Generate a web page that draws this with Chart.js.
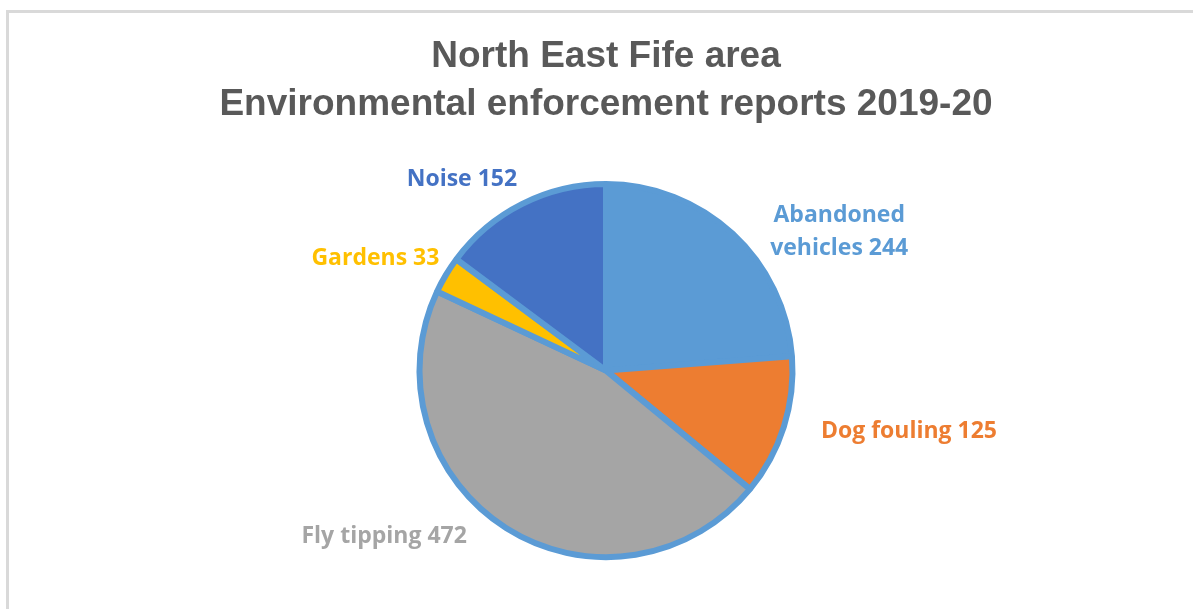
<!DOCTYPE html>
<html>
<head>
<meta charset="utf-8">
<script src="https://cdn.jsdelivr.net/npm/chart.js@4"></script>
<style>
  html, body { margin: 0; padding: 0; background: #fff; overflow: hidden; }
  body { width: 1193px; height: 609px; position: relative; }
  #frame {
    position: absolute; left: 6px; top: 10px;
    width: 1196px; height: 596px;
    border-top: 3px solid #d9d9d9; border-left: 3px solid #d9d9d9;
  }
  #chart { display: block; }
</style>
</head>
<body>
<div id="frame"><canvas id="chart" width="1196" height="596"></canvas></div>
<script>
// Data
const categories = ["Abandoned\nvehicles", "Dog fouling", "Fly tipping", "Gardens", "Noise"];
const reports = [244, 125, 472, 33, 152];
const sliceColors = ["#5B9BD5", "#ED7D31", "#A5A5A5", "#FFC000", "#4472C4"];
const titleLines = ["North East Fife area", "Environmental enforcement reports 2019-20"];

// small hand nudges so the labels sit where Excel put them
const labelShift = [[48, 35], [25, -5], [-69, -20], [-1, 1], [-28, 5]];

const labelFont = "bold 23px 'Open Sans'";
const labelLineHeight = 33;

// Outside-end data labels, coloured like their slice
const outsideLabels = {
  id: "outsideLabels",
  afterDatasetsDraw(chart) {
    const ctx = chart.ctx;
    const meta = chart.getDatasetMeta(0);
    ctx.save();
    ctx.font = labelFont;
    ctx.textAlign = "center";
    ctx.textBaseline = "middle";
    meta.data.forEach((arc, i) => {
      const p = arc.getProps(["x", "y", "startAngle", "endAngle", "outerRadius"], true);
      const mid = (p.startAngle + p.endAngle) / 2;
      const dx = Math.cos(mid);
      const dy = Math.sin(mid);
      const dist = p.outerRadius + 3 + 14;
      const ax = p.x + dx * dist;
      const ay = p.y + dy * dist;
      const lines = (categories[i] + " " + reports[i]).split("\n");
      const w = Math.max(...lines.map((l) => ctx.measureText(l).width));
      const h = lines.length * labelLineHeight;
      const cx = ax + dx * w / 2 + labelShift[i][0];
      const cy = ay + dy * h / 2 + labelShift[i][1];
      ctx.fillStyle = sliceColors[i];
      lines.forEach((l, k) => {
        ctx.fillText(l, cx, cy - (h - labelLineHeight) / 2 + k * labelLineHeight);
      });
    });
    ctx.restore();
  },
};

new Chart(document.getElementById("chart"), {
  type: "pie",
  data: {
    labels: categories,
    datasets: [
      {
        data: reports,
        backgroundColor: sliceColors,
        borderColor: "#5B9BD5",
        borderWidth: 6,
        hoverOffset: 0,
      },
    ],
  },
  options: {
    responsive: false,
    animation: false,
    radius: 186.5,
    layout: {
      padding: { left: 0, right: 2, top: 0, bottom: 17 },
    },
    plugins: {
      legend: { display: false },
      tooltip: { enabled: false },
      title: {
        display: true,
        text: titleLines,
        color: "#595959",
        font: { family: "'Liberation Sans', Arial, sans-serif", size: 37, weight: "bold", lineHeight: 1.3 },
        padding: { top: 20, bottom: 20 },
      },
    },
  },
  plugins: [outsideLabels],
});
</script>
</body>
</html>
